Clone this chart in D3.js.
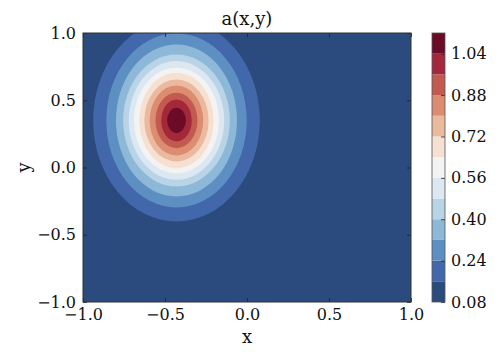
<!DOCTYPE html>
<html>
<head>
<meta charset="utf-8">
<script src="https://cdn.jsdelivr.net/npm/d3@7"></script>
<style>
  body { margin: 0; background: #fff; }
  text { font-family: "DejaVu Serif", "Liberation Serif", serif; fill: #111; }
</style>
</head>
<body>
<div id="wrapper"></div>
<script>
// contour band boundaries (colorbar levels)
const levels = [0.08, 0.16, 0.24, 0.32, 0.40, 0.48, 0.56, 0.64, 0.72, 0.80, 0.88, 0.96, 1.04, 1.12]
const cbarTicks = [0.08, 0.24, 0.40, 0.56, 0.72, 0.88, 1.04]
const axisTicks = [-1.0, -0.5, 0.0, 0.5, 1.0]

// peak centre and half-axes of each contour ring (data units)
const peakCenter = [-0.43, 0.35]
const ringLevels = [0.16, 0.24, 0.32, 0.40, 0.48, 0.56, 0.64, 0.72, 0.80, 0.88, 0.96, 1.04]
const ringRx = [0.508, 0.428, 0.369, 0.325, 0.291, 0.260, 0.227, 0.196, 0.163, 0.128, 0.093, 0.057]
const ringRy = [0.751, 0.647, 0.565, 0.491, 0.441, 0.392, 0.355, 0.305, 0.260, 0.206, 0.156, 0.094]

const bandColors = ["#2b4a7e", "#4268ab", "#5d8fc2", "#8db8d8", "#b9d4e7", "#dbe7f1", "#f3f3f3",
  "#f6e0d2", "#ebb99e", "#db8c71", "#c25a4f", "#a3283c", "#6c0b28"]

const serif = "'DejaVu Serif', 'Liberation Serif', serif"
const width = 504
const height = 360
const dims = { left: 83, right: 411, top: 33, bottom: 302 }
const cbar = { left: 432, right: 445 }

const svg = d3.select("#wrapper").append("svg")
    .attr("width", width)
    .attr("height", height)

const xScale = d3.scaleLinear().domain([-1, 1]).range([dims.left, dims.right])
const yScale = d3.scaleLinear().domain([-1, 1]).range([dims.bottom, dims.top])
const cScale = d3.scaleLinear().domain([levels[0], levels[levels.length - 1]]).range([dims.bottom, dims.top])
const colorOf = d3.scaleThreshold().domain(levels.slice(1, -1)).range(bandColors)

svg.append("clipPath").attr("id", "plotclip")
  .append("rect")
    .attr("x", dims.left).attr("y", dims.top)
    .attr("width", dims.right - dims.left).attr("height", dims.bottom - dims.top)

const plot = svg.append("g").attr("clip-path", "url(#plotclip)")

// lowest band fills the whole area
plot.append("rect")
    .attr("x", dims.left).attr("y", dims.top)
    .attr("width", dims.right - dims.left).attr("height", dims.bottom - dims.top)
    .attr("fill", colorOf(levels[0]))

const rings = ringLevels.map((l, i) => ({ level: l, rx: ringRx[i], ry: ringRy[i] }))

plot.selectAll(".ring")
  .data(rings)
  .join("ellipse")
    .attr("class", "ring")
    .attr("cx", xScale(peakCenter[0]))
    .attr("cy", yScale(peakCenter[1]))
    .attr("rx", d => xScale(peakCenter[0] + d.rx) - xScale(peakCenter[0]))
    .attr("ry", d => yScale(peakCenter[1]) - yScale(peakCenter[1] + d.ry))
    .attr("fill", d => colorOf(d.level))

// axes: ticks inward on all four sides, minor ticks every 0.1
const fmt = d => d3.format(".1f")(d).replace("-", "\u2212")
const minor = d3.range(-10, 11).map(d => d / 10).filter(d => Math.abs(d * 2 - Math.round(d * 2)) > 1e-6)

function addAxis(axisFn, scale, transform, showLabels) {
  const g = svg.append("g").attr("transform", transform)
  g.call(axisFn(scale).tickValues(minor).tickSize(-2).tickFormat(""))
  g.call(axisFn(scale).tickValues(axisTicks).tickSize(-4).tickPadding(7).tickFormat(showLabels ? fmt : ""))
  g.attr("font-family", serif).attr("font-size", 16)
  g.selectAll(".domain").remove()
  g.selectAll("line").attr("stroke", "#222").attr("stroke-width", 0.8)
  g.selectAll("text").attr("fill", "#111")
  return g
}
addAxis(d3.axisBottom, xScale, `translate(0,${dims.bottom})`, true)
addAxis(d3.axisTop, xScale, `translate(0,${dims.top})`, false)
addAxis(d3.axisLeft, yScale, `translate(${dims.left},0)`, true)
addAxis(d3.axisRight, yScale, `translate(${dims.right},0)`, false)

svg.append("rect")
    .attr("x", dims.left).attr("y", dims.top)
    .attr("width", dims.right - dims.left).attr("height", dims.bottom - dims.top)
    .attr("fill", "none").attr("stroke", "#333").attr("stroke-width", 1)

// labels
svg.append("text")
    .attr("x", (dims.left + dims.right) / 2).attr("y", 25)
    .attr("text-anchor", "middle").attr("font-family", serif).attr("font-size", 18)
    .text("a(x,y)")
svg.append("text")
    .attr("x", (dims.left + dims.right) / 2).attr("y", 343)
    .attr("text-anchor", "middle").attr("font-family", serif).attr("font-size", 18)
    .text("x")
svg.append("text")
    .attr("transform", `translate(30,${(dims.top + dims.bottom) / 2}) rotate(-90)`)
    .attr("text-anchor", "middle").attr("font-family", serif).attr("font-size", 18)
    .text("y")

// colorbar
const bands = levels.slice(0, -1).map((l, i) => ({ lo: l, hi: levels[i + 1] }))
svg.selectAll(".cband")
  .data(bands)
  .join("rect")
    .attr("class", "cband")
    .attr("x", cbar.left)
    .attr("width", cbar.right - cbar.left)
    .attr("y", d => cScale(d.hi))
    .attr("height", d => cScale(d.lo) - cScale(d.hi))
    .attr("fill", d => colorOf(d.lo))

const cMinor = levels.filter(l => !cbarTicks.some(t => Math.abs(t - l) < 1e-6))
const cg = svg.append("g").attr("transform", `translate(${cbar.right},0)`)
cg.call(d3.axisRight(cScale).tickValues(cMinor).tickSize(-2).tickFormat(""))
cg.call(d3.axisRight(cScale).tickValues(cbarTicks).tickSize(-4).tickPadding(6).tickFormat(d3.format(".2f")))
cg.attr("font-family", serif).attr("font-size", 16)
cg.selectAll(".domain").remove()
cg.selectAll("line").attr("stroke", "#222").attr("stroke-width", 0.8)
cg.selectAll("text").attr("fill", "#111")

svg.append("rect")
    .attr("x", cbar.left).attr("y", dims.top)
    .attr("width", cbar.right - cbar.left).attr("height", dims.bottom - dims.top)
    .attr("fill", "none").attr("stroke", "#555").attr("stroke-width", 0.8)
</script>
</body>
</html>
